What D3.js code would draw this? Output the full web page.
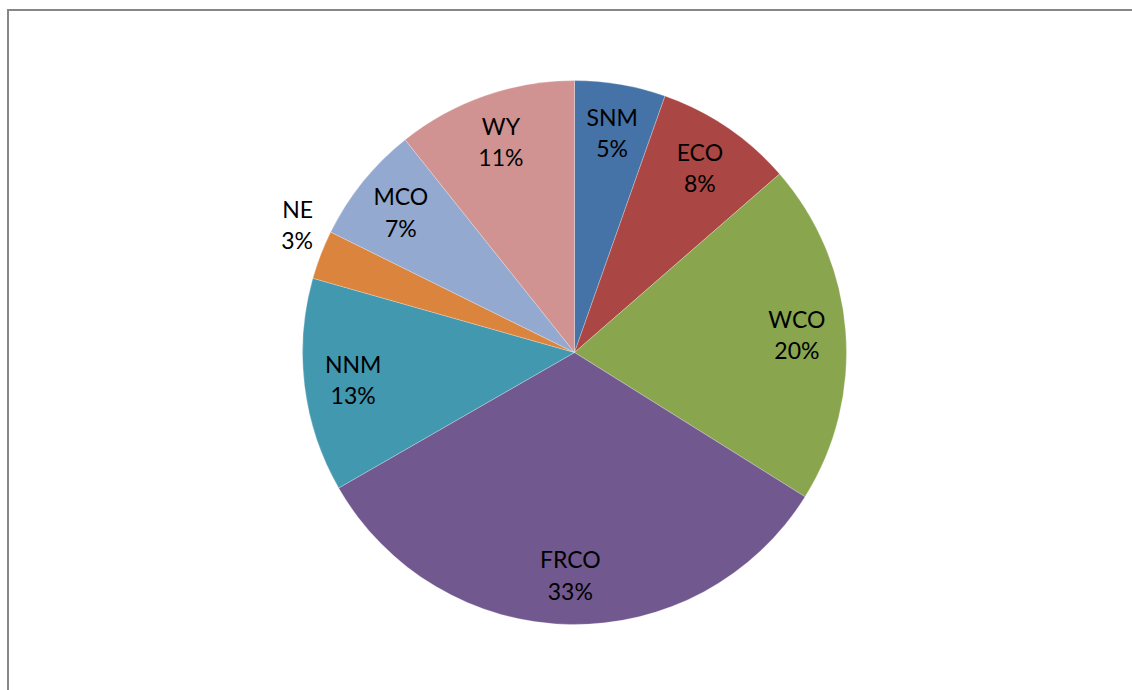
<!DOCTYPE html>
<html>
<head>
<meta charset="utf-8">
<script src="https://cdn.jsdelivr.net/npm/d3@7"></script>
<style>
  body { margin: 0; background: #fff; }
  svg { display: block; }
  .lbl { font-family: Lato, "Open Sans", sans-serif; font-size: 23px; fill: #000; }
</style>
</head>
<body>
<div id="chart"></div>
<script>
"use strict";

// slices, clockwise from 12 o'clock
var regions = ["SNM", "ECO", "WCO", "FRCO", "NNM", "NE", "MCO", "WY"];
var shares  = [5.4, 8.2, 20.3, 32.8, 12.7, 2.9, 7.0, 10.7];
var colors  = ["#4572A7", "#AA4643", "#89A54E", "#71588F", "#4198AF", "#DB843D", "#93A9CF", "#D19392"];

var width = 1132, height = 690;
var cx = 574.5, cy = 352.5, radius = 272;

var svg = d3.select("#chart").append("svg")
    .attr("width", width)
    .attr("height", height);

// chart area frame
svg.append("rect")
    .attr("x", 8)
    .attr("y", 10)
    .attr("width", width + 10)
    .attr("height", height + 10)
    .attr("fill", "none")
    .attr("stroke", "#878787")
    .attr("stroke-width", 2);

var data = regions.map(function(r, i) { return {name: r, value: shares[i], color: colors[i]}; });

var pie = d3.pie().sort(null).value(function(d) { return d.value; });
var arcs = pie(data);

var arc = d3.arc().innerRadius(0).outerRadius(radius);
var inLabel = d3.arc().innerRadius(radius * 0.82).outerRadius(radius * 0.82);
var outLabel = d3.arc().innerRadius(radius * 1.03).outerRadius(radius * 1.03);

var g = svg.append("g").attr("transform", "translate(" + cx + "," + cy + ")");

g.selectAll("path.slice")
  .data(arcs)
  .enter().append("path")
    .attr("class", "slice")
    .attr("d", arc)
    .attr("fill", function(d) { return d.data.color; })
    .attr("stroke", "#ffffff")
    .attr("stroke-opacity", 0.35)
    .attr("stroke-width", 0.75);

var total = d3.sum(shares);
function isSmall(d) { return d.data.value < 4; }

// small slices get their label outside, box corner touching the rim
var labels = g.selectAll("text.lbl")
  .data(arcs)
  .enter().append("text")
    .attr("class", "lbl")
    .attr("text-anchor", function(d) {
      if (!isSmall(d)) return "middle";
      return (d.startAngle + d.endAngle) / 2 > Math.PI ? "end" : "start";
    })
    .attr("transform", function(d) {
      if (!isSmall(d)) {
        var p = inLabel.centroid(d);
        return "translate(" + p[0] + "," + p[1] + ")";
      }
      var q = outLabel.centroid(d);
      return "translate(" + q[0] + "," + (q[1] - 27) + ")";
    });

labels.append("tspan")
    .attr("x", 0)
    .attr("dy", "-0.31em")
    .text(function(d) { return d.data.name; });

labels.append("tspan")
    .attr("x", 0)
    .attr("dy", "1.36em")
    .text(function(d) { return Math.round(d.data.value / total * 100) + "%"; });
</script>
</body>
</html>
